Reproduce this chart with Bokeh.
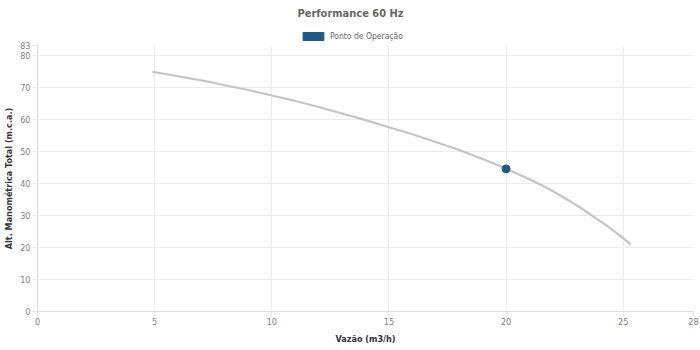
from bokeh.plotting import figure
from bokeh.layouts import column
from bokeh.models import FixedTicker, Legend, LegendItem, Range1d
from bokeh.core.properties import value
from bokeh.embed import file_html
from bokeh.resources import INLINE

# Curve (flow m3/h, head m.c.a.)
curve_x = [4.9, 6, 7, 8, 9, 10, 11, 12, 13, 14, 15, 16, 17, 18, 19, 20, 21, 21.5, 22, 22.5, 23, 23.5, 24, 24.5, 25, 25.3]
curve_y = [74.8, 73.4, 72.1, 70.6, 69.1, 67.4, 65.7, 63.8, 61.8, 59.7, 57.5, 55.3, 52.9, 50.4, 47.6, 44.6,
           41.3, 39.5, 37.5, 35.4, 33.2, 30.8, 28.3, 25.7, 22.9, 21.0]

# Operating point
op_x = [20.0]
op_y = [44.5]

x_ticks = [0, 5, 10, 15, 20, 25, 28]
y_ticks = [0, 10, 20, 30, 40, 50, 60, 70, 80, 83]

title_text = "Performance 60 Hz"
legend_label = "Ponto de Operação"

FONT = "DejaVu Sans Condensed"
BLUE = "#1f5a88"

# ---- header: title + legend (data units = canvas pixels) ----
h = figure(width=700, height=41, output_backend="svg", toolbar_location=None,
           x_range=Range1d(37, 693), y_range=Range1d(41, 0),
           x_axis_type=None, y_axis_type=None,
           min_border_left=37, min_border_right=7, min_border_top=0, min_border_bottom=0)
h.xgrid.visible = False
h.ygrid.visible = False
h.outline_line_color = None
h.text(x=[350], y=[13], text=[title_text], text_align="center", text_baseline="middle",
       text_font=value(FONT), text_font_size="11px", text_font_style="bold",
       text_color="#666666")
dummy = h.quad(left=[-100], right=[-90], top=[-100], bottom=[-110], fill_color=BLUE, line_color=BLUE)
legend = Legend(items=[LegendItem(label=legend_label, renderers=[dummy])],
                orientation="horizontal", location=(263, 0),
                glyph_width=26, glyph_height=10, label_text_font=FONT,
                label_text_font_size="8.5px", label_text_color="#666666",
                border_line_color=None, background_fill_alpha=0,
                padding=0, margin=0, label_standoff=4, label_height=10)
h.add_layout(legend, "center")

# ---- main chart ----
p = figure(width=700, height=309, output_backend="svg", toolbar_location=None,
           x_range=Range1d(0, 28), y_range=Range1d(0, 83),
           min_border_left=37, min_border_right=7, min_border_top=4, min_border_bottom=39)

p.line(curve_x, curve_y, line_color="#c4c4c4", line_width=2.2)
p.scatter(op_x, op_y, size=8, fill_color=BLUE, line_color=BLUE)

for ax in (p.xaxis, p.yaxis):
    ax.axis_line_color = "#dddddd"
    ax.major_tick_line_color = "#e6e6e6"
    ax.minor_tick_line_color = None
    ax.major_tick_out = 5
    ax.major_tick_in = 0
    ax.major_label_text_font = FONT
    ax.major_label_text_font_size = "9px"
    ax.major_label_text_color = "#808080"
    ax.axis_label_text_font = FONT
    ax.axis_label_text_font_size = "9px"
    ax.axis_label_text_font_style = "bold"
    ax.axis_label_text_color = "#333333"

p.xaxis.ticker = FixedTicker(ticks=x_ticks)
p.yaxis.ticker = FixedTicker(ticks=y_ticks)
p.xaxis.axis_label = "Vazão (m3/h)"
p.yaxis.axis_label = "Alt. Manométrica Total (m.c.a.)"
p.xaxis.major_label_standoff = 1
p.yaxis.major_label_standoff = 2
p.xaxis.axis_label_standoff = 6
p.yaxis.axis_label_standoff = 3

p.xgrid.grid_line_color = "#ebebeb"
p.ygrid.grid_line_color = "#ebebeb"
p.outline_line_color = None

open("out.html", "w").write(file_html(column(h, p, spacing=0), INLINE))
